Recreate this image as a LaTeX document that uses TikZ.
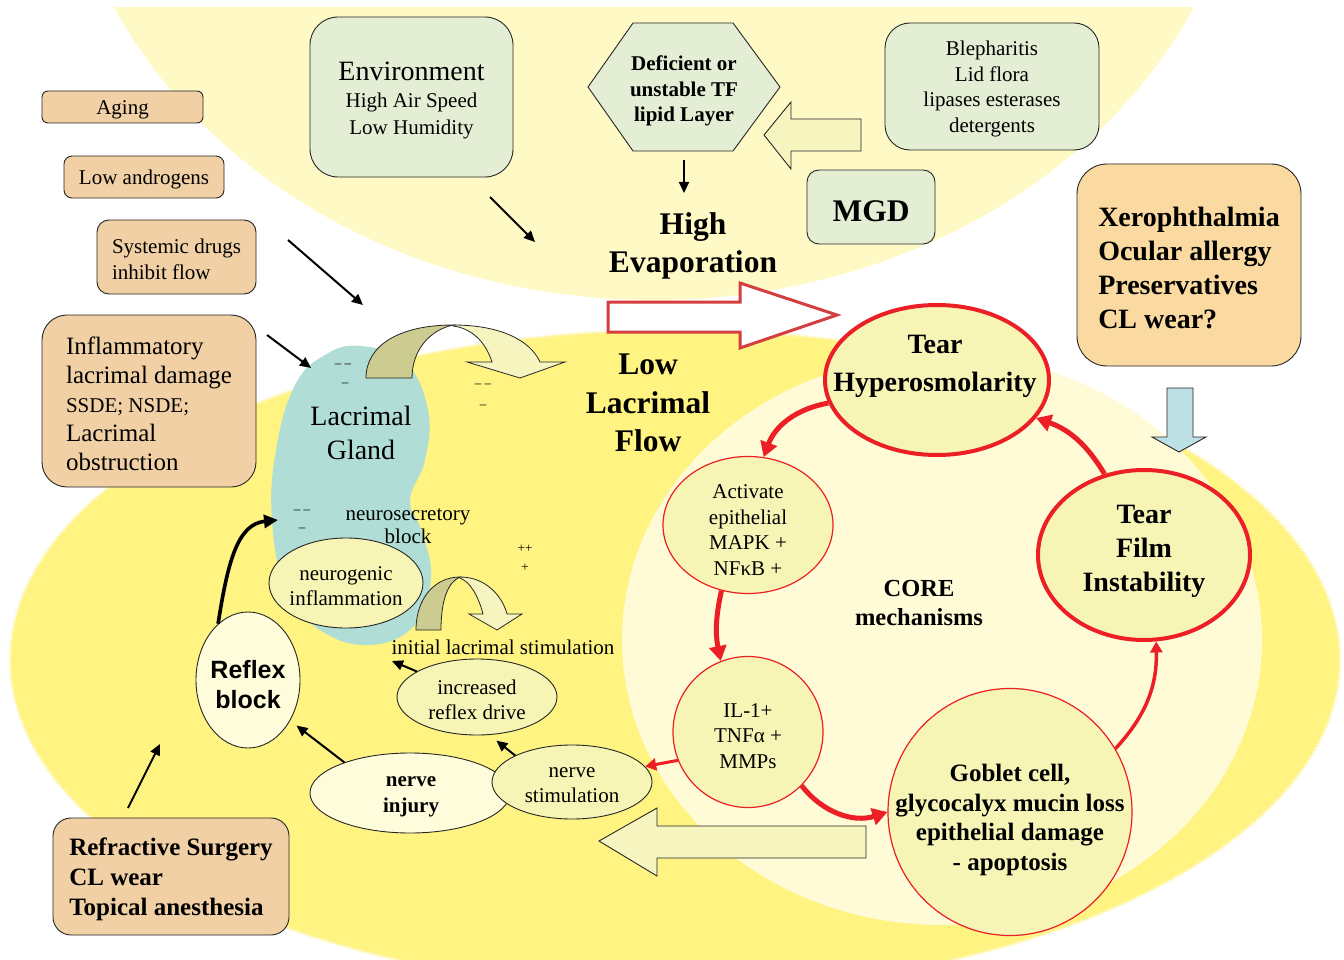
\documentclass[tikz,border=0pt]{standalone}
\usepackage{fontspec}
\setmainfont{Liberation Serif}
\newfontfamily\sansf{Liberation Sans}
\usetikzlibrary{shapes.geometric,arrows.meta}
\newcommand\myfs[2]{\fontsize{#1pt}{#2pt}\selectfont}
\newcommand\tp{\rule{0pt}{0.92em}}
\definecolor{paletop}{RGB}{255,249,198}
\definecolor{bigyel}{RGB}{255,243,130}
\definecolor{creamc}{RGB}{255,251,214}
\definecolor{greenbox}{RGB}{228,238,212}
\definecolor{tanbox}{RGB}{240,208,164}
\definecolor{orabox}{RGB}{250,218,160}
\definecolor{tealc}{RGB}{176,221,213}
\definecolor{ellfill}{RGB}{247,245,182}
\definecolor{creamnode}{RGB}{255,252,220}
\definecolor{arrpale}{RGB}{246,245,192}
\definecolor{arrdark}{RGB}{204,204,144}
\definecolor{bluearr}{RGB}{189,224,228}
\definecolor{redc}{RGB}{236,30,38}
\definecolor{redout}{RGB}{212,62,62}
\begin{document}
\begin{tikzpicture}[x=1pt,y=-1pt,
  box/.style={draw=black!85, line width=0.9pt, rectangle, inner sep=0pt, align=center},
  ell/.style={ellipse, draw=black!85, line width=0.9pt, inner sep=0pt},
  redell/.style={ellipse, draw=redc, line width=1.2pt, inner sep=0pt, fill=ellfill},
  txt/.style={inner sep=0pt, align=center, yshift=-3pt},
  blk/.style={line width=2pt, -{Triangle[length=11pt,width=10pt]}},
  blkthick/.style={line width=3.6pt, -{Triangle[length=14pt,width=13pt]}},
  redarr/.style={draw=redc, line width=5pt, -{Triangle[length=15pt,width=17pt]}, color=redc},
  redthin/.style={draw=redc, line width=3pt, -{Triangle[length=11pt,width=12pt]}, color=redc},
  sign/.style={inner sep=0pt, font=\myfs{13}{15}}
]
\useasboundingbox (0,0) rectangle (1344,960);
\fill[white] (0,0) rectangle (1344,960);

% ---------- backgrounds ----------
\begin{scope}
  \clip (0,8) rectangle (1344,960);
  \fill[paletop] (654,-200) ellipse [x radius=593, y radius=500];
\end{scope}
\fill[bigyel] (675,660) ellipse [x radius=665, y radius=330];
\draw[paletop, line width=3pt, dash pattern=on 2pt off 2pt] (675,660) ellipse [x radius=665, y radius=330];
\fill[creamc] (942,640) ellipse [x radius=320, y radius=285];

% ---------- lacrimal gland ----------
\fill[tealc] plot[smooth cycle, tension=0.7] coordinates {
 (360,346) (405,362) (428,410) (425,460) (410,500) (422,532) (431,578)
 (415,625) (370,645) (320,630) (286,590) (272,520) (276,450) (295,385) (325,355)};

% ---------- U arrows ----------
\filldraw[fill=arrdark, draw=black!85, line width=0.8pt]
  (366,378) .. controls (366,345) and (400,325) .. (453,325)
  .. controls (430,330) and (412,350) .. (412,378) -- cycle;
\filldraw[fill=arrpale, draw=black!85, line width=0.8pt]
  (453,325) .. controls (500,325) and (530,340) .. (540,362) -- (565,362) -- (520,378)
  -- (467,362) -- (492,362) .. controls (485,340) and (470,328) .. (453,326) -- cycle;
\filldraw[fill=arrdark, draw=black!85, line width=0.8pt]
  (416,630) .. controls (416,598) and (435,577) .. (460,577)
  .. controls (448,582) and (441,600) .. (441,630) -- cycle;
\filldraw[fill=arrpale, draw=black!85, line width=0.8pt]
  (460,577) .. controls (485,577) and (502,595) .. (507,614) -- (522,614) -- (497,630)
  -- (469,614) -- (483,614) .. controls (478,595) and (470,582) .. (460,578) -- cycle;

% ---------- block arrows ----------
\filldraw[fill=white, draw=redout, line width=3pt]
  (608,302) -- (740,302) -- (740,283) -- (837,315) -- (740,348) -- (740,332) -- (608,332) -- cycle;
\filldraw[fill=arrpale, draw=black!85, line width=0.9pt]
  (861,119) -- (791,119) -- (791,102) -- (764,135) -- (791,169) -- (791,151) -- (861,151) -- cycle;
\filldraw[fill=arrpale, draw=black!85, line width=0.9pt]
  (866,826) -- (657,826) -- (657,808) -- (599,841) -- (657,876) -- (657,858) -- (866,858) -- cycle;
\filldraw[fill=bluearr, draw=black!85, line width=0.9pt]
  (1167,388) -- (1193,388) -- (1193,437) -- (1206,437) -- (1179,452) -- (1152,437) -- (1167,437) -- cycle;

% ---------- top region ----------
\node[box, fill=greenbox, minimum width=203pt, minimum height=160pt, rounded corners=28pt,
      font=\myfs{21}{27}] (env) at (411.5,97)
  {\myfs{28}{30}\tp Environment\\\myfs{21}{27}High Air Speed\\\myfs{21}{27}Low Humidity};
\filldraw[fill=greenbox, draw=black!85, line width=0.9pt]
  (588,87) -- (633,23) -- (733,23) -- (780,87) -- (733,151) -- (633,151) -- cycle;
\node[txt, font=\bfseries\myfs{21}{25.5}] (hex) at (684,88) {Deficient or\\unstable TF\\lipid Layer};
\node[box, fill=greenbox, minimum width=214pt, minimum height=127pt, rounded corners=25pt,
      font=\myfs{21}{25.7}] (bleph) at (992,86.5)
  {\tp Blepharitis\\Lid flora\\lipases esterases\\detergents};
\node[box, fill=greenbox, minimum width=128pt, minimum height=74pt, rounded corners=12pt,
      font=\bfseries\myfs{31.5}{34}] (mgd) at (871,207) {\tp MGD};
\node[txt, font=\bfseries\myfs{31.5}{38}] (evap) at (693,243) {High\\Evaporation};

% ---------- left boxes ----------
\node[box, fill=tanbox, minimum width=161pt, minimum height=32pt, rounded corners=6pt,
      font=\myfs{21}{24}] (aging) at (122.5,107) {\tp Aging};
\node[box, fill=tanbox, minimum width=160pt, minimum height=42pt, rounded corners=8pt,
      font=\myfs{21}{24}] (lowand) at (144,177) {\tp Low androgens};
\node[box, fill=tanbox, minimum width=159pt, minimum height=74pt, rounded corners=12pt,
      align=left, font=\myfs{21}{26}] (sysd) at (176.5,257) {\tp Systemic drugs\\inhibit flow};
\node[box, fill=tanbox, minimum width=214pt, minimum height=172pt, rounded corners=25pt,
      align=left, font=\myfs{25}{29}] (infl) at (149,401)
  {\myfs{25}{29}\tp Inflammatory\\\myfs{25}{29}lacrimal damage\\\myfs{21}{28}SSDE; NSDE;\\\myfs{25}{29}Lacrimal\\\myfs{25}{29}obstruction};
\node[box, fill=orabox, minimum width=224pt, minimum height=202pt, rounded corners=30pt,
      align=left, font=\bfseries\myfs{28}{34}] (xer) at (1189,265)
  {\tp Xerophthalmia\\Ocular allergy\\Preservatives\\CL wear?};
\node[box, fill=tanbox, minimum width=236pt, minimum height=117pt, rounded corners=18pt,
      align=left, font=\bfseries\myfs{25}{30}] (refr) at (171,876.5)
  {\tp Refractive Surgery\\CL wear\\Topical anesthesia};

% ---------- gland texts ----------
\node[txt, font=\myfs{28}{34}] (gland) at (361,430) {Lacrimal\\Gland};
\node[txt, font=\myfs{21}{23}] (neurosec) at (408,523) {neurosecretory\\block};
\node[ell, fill=ellfill, minimum width=154pt, minimum height=90pt] (neurog) at (346,583) {};
\node[txt, font=\myfs{21}{25}] (neurogt) at (neurog.center) {neurogenic\\inflammation};
\node[txt, font=\myfs{21}{24}] (initstim) at (503,644) {initial lacrimal stimulation};
\node[txt, font=\bfseries\myfs{31.5}{38.5}] (lowflow) at (648,400) {Low\\Lacrimal\\Flow};
\node[sign] (m1) at (343,366) {– –};
\node[sign] (m2) at (345,385) {–};
\node[sign] (m3) at (483,386) {– –};
\node[sign] (m4) at (483,407) {–};
\node[sign] (m5) at (302,512) {– –};
\node[sign] (m6) at (302,530) {–};
\node[sign] (p1) at (525,549) {++};
\node[sign] (p2) at (525,568) {+};

% ---------- core mechanism nodes ----------
\node[redell, line width=4pt, minimum width=224pt, minimum height=150pt] (hyper) at (937,380) {};
\node[txt, font=\bfseries\myfs{28}{38}] (hypert) at (935,363) {Tear\\Hyperosmolarity};
\node[redell, line width=4pt, minimum width=212pt, minimum height=170pt] (film) at (1144,555) {};
\node[txt, font=\bfseries\myfs{28}{34}] (filmt) at (1144,548) {Tear\\Film\\Instability};
\node[redell, minimum width=170pt, minimum height=137pt] (act) at (748,525) {};
\node[txt, font=\myfs{21}{25.7}] (actt) at (748,527) {Activate\\epithelial\\MAPK +\\NFκB +};
\node[redell, minimum width=150pt, minimum height=151pt] (il) at (748,732) {};
\node[txt, font=\myfs{21}{25.5}] (ilt) at (748,733) {IL-1+\\TNFα +\\MMPs};
\node[redell, minimum width=244pt, minimum height=247pt] (gob) at (1010,812) {};
\node[txt, font=\bfseries\myfs{25}{29.7}] (gobt) at (1010,817)
  {Goblet cell,\\glycocalyx mucin loss\\epithelial damage\\- apoptosis};
\node[txt, font=\bfseries\myfs{24.5}{29}] (core) at (919,600) {CORE\\mechanisms};

% ---------- reflex loop ----------
\node[ell, fill=creamnode, minimum width=104pt, minimum height=136pt] (reflex) at (248,680) {};
\node[txt, font=\sansf\bfseries\myfs{25}{30}] (reflext) at (248,682) {Reflex\\block};
\node[ell, fill=creamnode, minimum width=200pt, minimum height=80pt] (ninj) at (410,793) {};
\node[txt, font=\bfseries\myfs{21}{26}] (ninjt) at (411,794) {nerve\\injury};
\node[ell, fill=ellfill, minimum width=160pt, minimum height=74pt] (nstim) at (572,782) {};
\node[txt, font=\myfs{21}{25}] (nstimt) at (572,782) {nerve\\stimulation};
\node[ell, fill=ellfill, minimum width=160pt, minimum height=76pt] (incr) at (477,697) {};
\node[txt, font=\myfs{21}{25}] (incrt) at (477,697) {increased\\reflex drive};

% ---------- coordinates for free arrow ends ----------
\coordinate (envA) at (490,197);
\coordinate (envB) at (535,242);
\coordinate (sysA) at (288,240);
\coordinate (sysB) at (363,305);
\coordinate (inflA) at (267,335);
\coordinate (inflB) at (311,368);
\coordinate (hexA) at (684,160);
\coordinate (hexB) at (684,193);
\coordinate (refrA) at (128,808);
\coordinate (refrB) at (160,744);
\coordinate (glandIn) at (278,520);
\coordinate (stimIn) at (392,661);

% ---------- black arrows ----------
\draw[blk] (envA) -- (envB);
\draw[blk] (sysA) -- (sysB);
\draw[blk] (inflA) -- (inflB);
\draw[blk] (hexA) -- (hexB);
\draw[blk] (refrA) -- (refrB);
\draw[blk, shorten >=8pt] (ninj.155) -- (reflex.-44);
\draw[blk] (incr.157) -- (stimIn);
\draw[blk, shorten >=9pt] (nstim.155) -- (incr.-72);
\draw[blkthick] (reflex.118) .. controls (228,560) and (238,524) .. (glandIn);

% ---------- red arrows ----------
\draw[redarr] (hyper.192) to[bend right=30] (act.77);
\draw[redarr] (act.248) to[bend right=12] (il.111);
\draw[redthin] (il.202) -- (nstim.12);
\draw[redarr] (il.315) to[bend right=35] (gob.180);
\draw[redthin, line width=3.5pt] (gob.31) to[bend right=22] (film.278);
\draw[redarr] (film.116) to[bend right=20] (hyper.339);
\end{tikzpicture}
\end{document}
